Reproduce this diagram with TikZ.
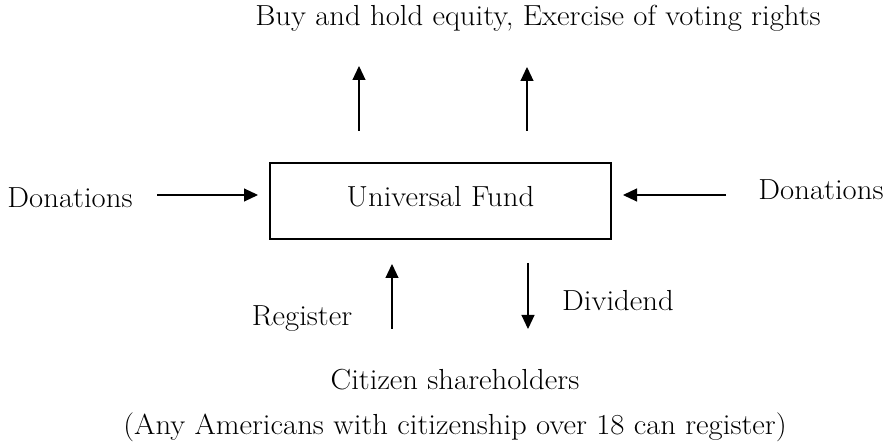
\documentclass[tikz,border=0pt]{standalone}
\usepackage{fontspec}
\setmainfont{Latin Modern Roman}[FakeStretch=1.06]
\usetikzlibrary{arrows.meta}
\begin{document}
\begin{tikzpicture}[x=1pt,y=-1pt,
  lbl/.style={anchor=base, inner sep=0pt, font=\fontsize{29}{34}\selectfont},
  flow/.style={line width=1.1pt, -{Triangle[length=14pt,width=13pt]}},
  fundbox/.style={draw, line width=1.3pt, minimum width=341pt, minimum height=76pt, inner sep=0pt}]
\useasboundingbox (0,0) rectangle (886,443);

% central fund box
\node[fundbox] (fund) at (440.5,201) {};
\node[lbl] (fundtxt) at (440.5,207) {Universal Fund};

% labels around the fund
\node[lbl] (top) at (538,26) {Buy and hold equity, Exercise of voting rights};
\node[lbl] (donl) at (70,208) {Donations};
\node[lbl] (donr) at (821,200) {Donations};
\node[lbl] (reg) at (302,326) {Register};
\node[lbl] (div) at (618,311) {Dividend};
\node[lbl] (cit) at (455,390) {Citizen shareholders};
\node[lbl] (note) at (455,434) {(Any Americans with citizenship over 18 can register)};

% arrow end points
\coordinate (dl0) at (157,195);  \coordinate (dl1) at (258,195);
\coordinate (dr0) at (726,195);  \coordinate (dr1) at (623,195);
\coordinate (ua0) at (359,131);  \coordinate (ua1) at (359,66);
\coordinate (ub0) at (527,131);  \coordinate (ub1) at (527,67);
\coordinate (rg0) at (392,329);  \coordinate (rg1) at (392,264);
\coordinate (dv0) at (528,263);  \coordinate (dv1) at (528,329);

\draw[flow] (dl0) -- (dl1);
\draw[flow] (dr0) -- (dr1);
\draw[flow] (ua0) -- (ua1);
\draw[flow] (ub0) -- (ub1);
\draw[flow] (rg0) -- (rg1);
\draw[flow] (dv0) -- (dv1);
\end{tikzpicture}
\end{document}
